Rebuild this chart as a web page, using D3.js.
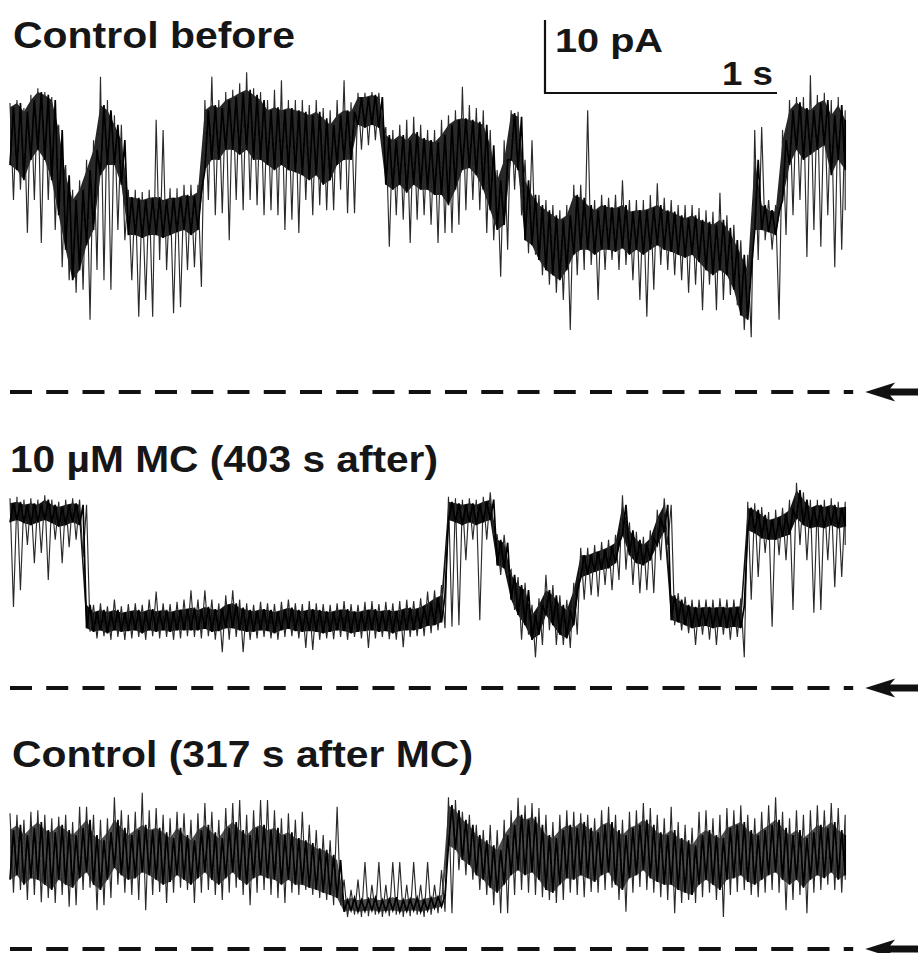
<!DOCTYPE html>
<html>
<head>
<meta charset="utf-8">
<script src="https://cdn.jsdelivr.net/npm/d3@7"></script>
<style>
  body { margin: 0; background: #fff; }
  svg { display: block; }
  text { font-family: "Liberation Sans", Arial, sans-serif; font-weight: bold; fill: #161616; }
</style>
</head>
<body>
<div id="root"></div>
<script>
// single-channel recordings, current in pA above the closed level, binned every dt seconds
const dt = 0.03;
const traceLabels = ["Control before", "10 µM MC (403 s after)", "Control (317 s after MC)"];
const scaleLabels = ["10 pA", "1 s"];

// Control before: dense band (hi/lo) and full extent of the noise (max/min)
const beforeHi = [39.0, 39.6, 38.4, 40.0, 41.1, 40.7, 40.0, 35.9, 29.7, 26.3,
  27.7, 30.4, 33.2, 39.3, 38.6, 36.6, 34.5, 26.7, 26.6, 26.3,
  26.6, 26.7, 26.3, 26.6, 26.6, 27.0, 26.8, 27.4, 38.6, 39.3,
  38.9, 40.0, 40.4, 41.0, 41.4, 40.7, 40.0, 38.6, 39.0, 38.6,
  38.9, 38.6, 38.4, 37.9, 38.4, 37.5, 36.6, 37.9, 38.6, 38.4,
  40.4, 40.4, 40.7, 40.4, 35.2, 34.5, 35.2, 34.5, 35.6, 34.8,
  34.5, 34.2, 35.2, 36.6, 37.3, 37.5, 37.3, 37.0, 36.6, 33.8,
  29.0, 31.8, 38.2, 37.7, 29.0, 27.0, 25.6, 24.9, 24.2, 23.6,
  24.2, 27.0, 26.6, 25.6, 24.9, 25.6, 25.3, 25.2, 25.6, 24.7,
  24.9, 24.9, 25.2, 25.6, 24.9, 24.7, 24.2, 23.8, 24.2, 23.6,
  23.3, 22.9, 23.6, 22.5, 20.8, 18.8, 16.7, 31.8, 25.6, 24.9,
  24.7, 34.5, 38.6, 39.7, 38.9, 38.6, 39.6, 40.0, 37.9, 39.3, 37.3];
const beforeLo = [31.1, 30.4, 29.0, 31.8, 33.2, 31.8, 29.0, 24.2, 19.5, 15.3,
  16.7, 20.1, 22.2, 29.7, 31.1, 31.1, 28.4, 21.5, 21.5, 21.1,
  21.5, 21.5, 21.1, 21.5, 21.9, 22.2, 21.5, 22.2, 30.4, 31.8,
  31.8, 33.2, 33.2, 32.5, 33.2, 31.8, 31.8, 31.1, 30.4, 31.1,
  30.4, 30.1, 29.7, 29.0, 29.7, 28.4, 29.0, 31.1, 31.8, 31.8,
  36.6, 36.2, 36.6, 36.2, 28.4, 27.7, 28.4, 27.3, 28.4, 27.7,
  27.7, 27.0, 27.0, 25.6, 27.7, 30.4, 30.7, 29.7, 27.7, 24.9,
  22.2, 22.9, 31.8, 30.4, 20.8, 20.1, 18.1, 16.7, 16.0, 15.3,
  16.7, 18.8, 19.5, 19.5, 18.8, 19.5, 19.5, 19.2, 19.7, 18.8,
  19.5, 18.8, 19.5, 20.1, 19.5, 19.2, 18.8, 18.4, 18.8, 17.8,
  16.7, 16.0, 16.7, 16.0, 14.0, 10.5, 9.9, 22.2, 22.2, 21.9,
  21.5, 26.3, 31.1, 33.2, 31.8, 32.5, 33.2, 33.8, 29.7, 31.8, 30.4];
const beforeMax = [39.6, 40.0, 38.9, 40.7, 41.6, 41.1, 40.4, 36.6, 31.1, 27.7,
  29.0, 31.8, 34.5, 43.2, 40.0, 37.9, 36.6, 27.7, 27.7, 27.4,
  27.7, 37.3, 35.9, 27.9, 27.9, 28.4, 28.4, 28.4, 40.0, 43.2,
  40.0, 41.1, 41.4, 42.3, 43.8, 41.6, 41.1, 40.0, 41.4, 42.7,
  40.0, 40.0, 40.0, 39.3, 40.0, 38.9, 38.6, 40.0, 42.7, 39.7,
  41.0, 41.0, 41.1, 41.0, 36.3, 35.9, 36.6, 37.3, 37.7, 36.6,
  35.9, 35.9, 37.3, 37.9, 38.6, 41.8, 39.3, 38.9, 38.6, 35.9,
  30.4, 34.5, 38.6, 38.4, 31.8, 34.5, 27.0, 26.3, 25.6, 24.9,
  25.6, 28.4, 28.4, 38.6, 26.3, 27.0, 26.6, 27.0, 29.0, 26.3,
  26.3, 26.3, 27.0, 28.6, 26.6, 26.3, 25.6, 25.6, 25.6, 25.2,
  24.9, 24.7, 27.3, 24.2, 22.9, 20.8, 18.8, 35.9, 36.3, 26.3,
  25.6, 35.9, 40.0, 40.4, 40.4, 43.4, 40.7, 41.0, 40.0, 40.4, 38.6];
const beforeMin = [26.3, 27.7, 21.8, 26.3, 20.4, 26.3, 22.2, 17.1, 15.3, 13.6,
  14.0, 9.9, 16.7, 15.3, 14.0, 22.2, 20.8, 15.3, 10.3, 12.6,
  10.3, 18.1, 16.7, 10.8, 11.6, 16.7, 17.1, 14.4, 26.3, 24.2,
  24.5, 20.8, 26.3, 24.9, 26.3, 25.6, 24.2, 24.9, 24.2, 22.2,
  23.6, 21.8, 26.3, 24.2, 25.6, 24.9, 24.9, 27.7, 24.5, 24.5,
  33.2, 33.8, 34.5, 33.8, 19.9, 24.2, 23.6, 20.4, 23.6, 24.2,
  22.9, 20.4, 21.8, 21.8, 22.9, 24.9, 26.3, 24.9, 21.8, 20.8,
  15.8, 19.5, 27.7, 24.2, 19.0, 18.8, 16.0, 14.7, 13.6, 12.6,
  8.5, 16.0, 16.7, 17.4, 12.6, 16.7, 18.1, 16.7, 17.4, 15.3,
  12.6, 10.3, 14.0, 17.4, 16.7, 16.0, 15.3, 13.6, 14.7, 11.2,
  14.7, 11.2, 12.6, 13.3, 11.9, 8.5, 7.5, 18.1, 20.8, 19.5,
  9.9, 21.5, 24.2, 26.3, 18.5, 22.2, 19.9, 24.2, 17.1, 19.5, 24.9];

// 10 uM MC
const mcHi = [25.3, 25.5, 25.1, 25.3, 25.1, 25.8, 25.1, 24.8, 25.1, 25.3,
  25.1, 11.4, 10.4, 10.7, 10.4, 10.7, 10.3, 10.5, 10.7, 10.4,
  10.8, 10.5, 10.7, 10.4, 10.7, 10.8, 11.0, 10.7, 11.1, 10.8,
  10.7, 11.4, 11.6, 11.0, 10.7, 10.5, 10.8, 10.7, 10.4, 10.7,
  11.0, 10.7, 10.5, 10.8, 10.7, 10.5, 10.4, 10.7, 10.8, 10.5,
  10.4, 10.7, 10.8, 10.5, 10.7, 10.5, 10.7, 11.0, 10.8, 11.1,
  11.6, 12.3, 12.7, 25.5, 25.3, 25.1, 25.3, 25.1, 25.5, 25.8,
  20.3, 19.9, 15.5, 14.1, 13.4, 10.0, 11.4, 13.4, 12.7, 11.4,
  10.7, 13.4, 18.2, 18.2, 18.6, 18.9, 19.3, 19.9, 25.1, 21.6,
  20.3, 19.6, 20.5, 23.3, 25.1, 12.7, 12.1, 11.4, 11.1, 11.0,
  11.1, 11.0, 11.1, 11.0, 11.1, 11.2, 24.7, 24.4, 23.7, 23.0,
  23.3, 23.7, 24.4, 27.1, 25.8, 24.7, 25.1, 24.8, 25.1, 24.7, 24.8];
const mcLo = [22.7, 23.0, 22.6, 22.3, 22.7, 23.0, 22.6, 22.1, 22.3, 22.7,
  22.3, 8.2, 7.7, 7.9, 7.5, 7.9, 7.7, 7.8, 7.9, 7.5,
  7.9, 7.7, 7.9, 7.7, 7.9, 7.9, 7.9, 7.9, 8.1, 7.7,
  7.8, 8.2, 8.2, 7.9, 7.7, 7.7, 7.9, 7.8, 7.5, 7.9,
  8.1, 7.8, 7.7, 7.8, 7.7, 7.5, 7.7, 7.9, 7.8, 7.5,
  7.7, 7.8, 7.9, 7.7, 7.8, 7.5, 7.8, 7.9, 7.9, 8.1,
  8.5, 8.6, 9.0, 23.0, 22.7, 22.3, 22.7, 22.3, 22.7, 23.0,
  16.8, 16.4, 12.1, 10.0, 8.6, 6.6, 7.3, 10.0, 8.6, 7.3,
  6.8, 8.6, 15.1, 15.5, 15.9, 16.2, 16.4, 17.1, 21.0, 18.2,
  17.1, 16.8, 17.5, 19.6, 21.4, 9.3, 9.0, 8.6, 8.2, 8.4,
  8.5, 8.2, 8.4, 8.2, 8.4, 8.2, 21.6, 21.2, 20.5, 20.3,
  20.3, 20.7, 21.0, 23.3, 22.3, 21.9, 22.1, 21.9, 22.3, 21.9, 22.1];
const mcMax = [26.0, 26.2, 25.8, 26.0, 25.8, 26.4, 25.8, 25.5, 25.8, 26.0,
  25.8, 25.1, 11.4, 11.6, 11.2, 12.1, 11.2, 11.5, 11.6, 11.4,
  12.1, 13.2, 11.6, 11.5, 11.8, 12.1, 13.4, 12.1, 13.4, 12.1,
  11.6, 12.7, 13.4, 12.1, 11.6, 11.4, 11.8, 11.6, 11.5, 11.8,
  12.1, 11.6, 11.5, 11.9, 11.6, 11.5, 11.4, 11.6, 11.9, 11.5,
  11.4, 11.8, 11.9, 11.5, 11.8, 11.6, 11.9, 12.1, 11.9, 12.3,
  13.2, 13.4, 14.1, 26.2, 26.0, 25.8, 26.0, 25.8, 26.2, 26.8,
  21.0, 21.0, 16.2, 15.2, 14.4, 11.4, 12.3, 15.5, 14.1, 12.7,
  12.1, 14.4, 19.2, 19.2, 19.6, 20.0, 20.3, 21.0, 26.4, 22.7,
  21.4, 20.7, 21.6, 24.4, 26.0, 25.1, 13.0, 12.5, 12.1, 12.1,
  12.1, 12.1, 12.3, 12.1, 12.1, 12.3, 25.5, 25.3, 24.8, 24.1,
  24.4, 24.7, 25.8, 28.1, 26.8, 25.8, 25.8, 25.8, 26.0, 25.5, 25.5];
const mcMin = [11.1, 13.4, 19.6, 17.1, 18.5, 14.8, 20.3, 17.1, 19.3, 20.3,
  17.9, 7.7, 6.8, 7.1, 6.6, 7.0, 6.6, 6.8, 7.0, 6.6,
  7.1, 6.8, 7.0, 6.6, 6.8, 7.1, 7.0, 6.8, 7.1, 6.6,
  4.9, 6.6, 7.0, 4.9, 6.6, 6.8, 7.0, 6.8, 6.6, 7.0,
  7.1, 6.8, 5.5, 5.2, 6.6, 6.8, 6.7, 7.0, 6.6, 7.0,
  6.8, 5.5, 6.8, 7.0, 6.7, 6.6, 5.6, 7.0, 7.1, 7.1,
  7.5, 7.9, 8.2, 8.4, 8.6, 17.5, 20.3, 9.3, 20.3, 21.0,
  15.5, 15.5, 10.7, 6.6, 7.3, 4.2, 5.9, 7.9, 5.9, 5.9,
  5.5, 7.3, 12.1, 12.7, 12.5, 14.1, 13.4, 14.8, 16.2, 14.1,
  13.0, 13.4, 13.0, 17.5, 19.6, 8.6, 7.9, 7.5, 5.9, 7.3,
  6.6, 5.9, 7.3, 6.6, 7.0, 4.2, 12.1, 15.2, 18.5, 8.4,
  18.2, 17.5, 10.7, 19.6, 17.5, 10.3, 10.7, 17.5, 13.8, 15.2, 19.6];

// Control 317 s after MC
const afterHi = [16.3, 17.0, 15.6, 16.6, 17.4, 16.3, 16.0, 17.0, 16.3, 15.6,
  16.6, 17.7, 15.6, 14.9, 16.0, 17.7, 16.6, 15.6, 16.3, 17.0,
  16.3, 16.6, 16.0, 15.2, 16.6, 15.6, 14.9, 16.3, 17.0, 16.0,
  15.2, 16.6, 17.4, 16.3, 15.6, 16.6, 17.0, 16.3, 16.6, 15.6,
  16.0, 15.2, 14.9, 14.5, 13.8, 13.6, 12.9, 12.2, 6.7, 7.0,
  6.7, 6.8, 7.0, 6.7, 6.8, 7.1, 6.7, 6.8, 7.0, 6.7,
  7.0, 7.1, 7.4, 19.7, 19.0, 17.7, 17.0, 15.6, 14.9, 14.2,
  13.6, 15.6, 17.0, 18.4, 17.7, 18.1, 17.0, 15.6, 15.2, 16.3,
  17.0, 16.6, 17.4, 16.6, 16.0, 17.0, 17.4, 16.3, 15.6, 16.6,
  17.0, 17.7, 17.0, 16.0, 15.6, 16.3, 15.2, 14.9, 14.2, 15.6,
  16.3, 15.6, 15.2, 16.6, 17.0, 17.4, 16.3, 15.6, 16.3, 17.0,
  17.7, 16.6, 15.6, 16.3, 15.2, 16.0, 17.0, 16.6, 17.4, 16.3, 15.6];
const afterLo = [9.5, 10.1, 8.8, 9.7, 9.5, 8.8, 8.1, 9.5, 8.8, 8.4,
  9.7, 10.5, 8.8, 8.1, 9.5, 11.1, 10.1, 9.5, 9.7, 10.5,
  10.1, 9.5, 8.8, 9.2, 10.1, 9.5, 8.8, 9.7, 10.5, 9.5,
  8.8, 9.7, 10.5, 9.5, 8.8, 9.7, 10.1, 9.7, 9.5, 8.8,
  9.5, 8.8, 8.8, 8.4, 8.1, 7.7, 7.4, 7.0, 5.1, 5.3,
  5.1, 5.2, 5.3, 5.1, 5.2, 5.3, 5.1, 5.2, 5.3, 5.1,
  5.3, 5.6, 5.8, 14.2, 13.6, 12.2, 11.5, 10.1, 9.5, 8.4,
  7.7, 8.8, 10.1, 10.8, 10.1, 10.5, 9.5, 8.1, 7.7, 8.8,
  9.7, 9.5, 10.1, 9.7, 9.2, 10.1, 10.5, 8.8, 8.1, 9.7,
  10.1, 10.8, 9.7, 9.2, 8.8, 8.8, 8.1, 7.7, 7.4, 8.8,
  9.5, 8.8, 8.1, 9.5, 9.7, 10.1, 9.2, 8.8, 9.5, 10.1,
  10.5, 9.5, 8.8, 9.5, 8.4, 9.5, 10.1, 9.7, 10.5, 9.5, 10.1];
const afterMax = [18.6, 18.4, 17.7, 18.8, 19.0, 18.4, 17.9, 18.1, 18.4, 17.4,
  19.5, 19.5, 18.4, 17.7, 17.9, 20.8, 19.0, 18.4, 18.8, 21.4,
  19.0, 19.3, 18.4, 17.9, 18.8, 18.6, 17.7, 18.6, 20.0, 18.8,
  17.7, 19.3, 20.0, 20.4, 18.4, 19.0, 20.4, 20.4, 19.0, 17.9,
  18.6, 17.7, 18.8, 17.0, 16.3, 15.6, 14.9, 19.5, 9.5, 8.1,
  9.5, 11.9, 8.8, 11.9, 8.8, 11.9, 11.9, 8.8, 11.9, 8.8,
  11.9, 8.8, 10.8, 20.8, 20.4, 18.8, 18.4, 17.0, 16.3, 17.0,
  16.3, 17.7, 19.0, 20.7, 19.7, 20.0, 19.3, 18.4, 17.4, 18.4,
  19.0, 18.8, 18.6, 18.4, 17.9, 19.0, 19.5, 18.4, 17.7, 18.8,
  19.0, 20.0, 19.3, 18.4, 17.9, 19.5, 17.4, 17.0, 16.6, 18.8,
  19.0, 17.9, 18.4, 19.3, 19.0, 19.7, 18.4, 17.9, 18.8, 19.7,
  20.8, 18.8, 17.9, 19.0, 18.4, 19.0, 19.7, 19.0, 20.0, 19.3, 18.4];
const afterMin = [7.7, 8.1, 6.7, 7.4, 6.4, 7.0, 6.3, 7.4, 5.8, 6.0,
  8.1, 8.4, 5.3, 6.0, 7.0, 8.8, 7.7, 7.4, 6.7, 5.3,
  7.4, 7.8, 6.3, 7.7, 8.4, 8.1, 6.3, 7.7, 8.1, 7.4,
  6.7, 7.7, 8.4, 7.4, 6.0, 7.7, 8.1, 7.4, 7.0, 6.3,
  7.7, 7.4, 8.1, 7.4, 7.0, 6.7, 6.0, 6.0, 4.4, 4.7,
  4.4, 4.5, 4.7, 4.4, 4.5, 4.7, 4.4, 4.5, 4.7, 4.4,
  4.7, 4.9, 5.1, 4.9, 10.8, 10.1, 9.5, 8.1, 7.4, 6.0,
  4.9, 4.9, 7.4, 8.1, 7.7, 7.4, 7.1, 6.7, 6.3, 6.7,
  7.7, 7.4, 7.1, 7.8, 7.7, 8.1, 8.4, 6.7, 5.1, 7.7,
  8.5, 8.1, 7.7, 7.1, 6.7, 4.9, 6.3, 6.7, 6.3, 7.1,
  7.7, 6.7, 4.4, 7.4, 7.8, 8.1, 7.4, 7.1, 7.7, 8.1,
  7.7, 5.3, 6.7, 7.4, 4.9, 7.7, 8.1, 8.8, 8.1, 7.7, 9.5];

const width = 918;
const height = 953;

const svg = d3.select("#root")
  .append("svg")
  .attr("width", width)
  .attr("height", height);

svg.append("rect").attr("width", width).attr("height", height).attr("fill", "#fff");

svg.append("defs")
  .append("filter")
  .attr("id", "soft")
  .append("feGaussianBlur")
  .attr("stdDeviation", 0.5);

// 232 px per second, 7.3 px per pA
const x = d3.scaleLinear().domain([0, 3.6]).range([10, 845.2]);

const panels = [
  { label: traceLabels[0], base: 392, labelX: 13, labelY: 48, labelW: 282, fill: 0.85,
    hi: beforeHi, lo: beforeLo, max: beforeMax, min: beforeMin },
  { label: traceLabels[1], base: 688, labelX: 10, labelY: 472, labelW: 428, fill: 0.92,
    hi: mcHi, lo: mcLo, max: mcMax, min: mcMin },
  { label: traceLabels[2], base: 949, labelX: 12, labelY: 767, labelW: 461, fill: 0.7,
    hi: afterHi, lo: afterLo, max: afterMax, min: afterMin }
];

// zigzag through two series: a at the sample time, b half a bin later
function zigzag(a, b, y) {
  const pts = [];
  a.forEach((d, i) => {
    pts.push([x(i * dt), y(d)]);
    const tb = i === a.length - 1 ? i * dt : (i + 0.5) * dt;
    pts.push([x(tb), y(b[i])]);
  });
  return d3.line()(pts);
}

panels.forEach((p) => {
  const y = d3.scaleLinear().domain([0, 10]).range([p.base, p.base - 73]);
  const g = svg.append("g").attr("class", "panel");

  g.append("text")
    .attr("x", p.labelX)
    .attr("y", p.labelY)
    .attr("font-size", 36)
    .attr("textLength", p.labelW)
    .attr("lengthAdjust", "spacingAndGlyphs")
    .text(p.label);

  const trace = g.append("g").attr("filter", "url(#soft)");

  // dense part of the trace
  const core = d3.area()
    .x((d, i) => x(i * dt))
    .y0((d, i) => y(p.lo[i]))
    .y1((d) => y(d));

  trace.append("path")
    .datum(p.hi)
    .attr("d", core)
    .attr("fill", "#000")
    .attr("fill-opacity", p.fill);

  // full noise excursions
  trace.append("path")
    .attr("d", zigzag(p.max, p.min, y))
    .attr("fill", "none")
    .attr("stroke", "#2b2b2b")
    .attr("stroke-width", 1.15);

  trace.append("path")
    .attr("d", zigzag(p.lo, p.hi, y))
    .attr("fill", "none")
    .attr("stroke", "#000")
    .attr("stroke-width", 1.7);

  // closed level
  const xEnd = x.range()[1];
  g.append("line")
    .attr("x1", x(0))
    .attr("x2", xEnd + 8)
    .attr("y1", y(0))
    .attr("y2", y(0))
    .attr("stroke", "#111")
    .attr("stroke-width", 4)
    .attr("stroke-dasharray", "22 14.25");

  const tip = xEnd + 20;
  const y0 = y(0);
  g.append("path")
    .attr("d", `M${tip},${y0} L${tip + 30},${y0 - 9.5} L${tip + 25},${y0 - 3.4}
      L${width},${y0 - 3.4} L${width},${y0 + 3.4} L${tip + 25},${y0 + 3.4}
      L${tip + 30},${y0 + 9.5} Z`)
    .attr("fill", "#111");
});

// scale bar
const yBar = d3.scaleLinear().domain([0, 10]).range([93, 20]);
const sbX = 545;
const bar = svg.append("g").attr("id", "scalebar");
bar.append("path")
  .attr("d", `M${sbX},${yBar(10)} V${yBar(0)} H${sbX + x(1) - x(0)}`)
  .attr("fill", "none")
  .attr("stroke", "#111")
  .attr("stroke-width", 2.2);

bar.append("text")
  .attr("x", 555)
  .attr("y", 52)
  .attr("font-size", 33)
  .attr("textLength", 108)
  .attr("lengthAdjust", "spacingAndGlyphs")
  .text(scaleLabels[0]);

bar.append("text")
  .attr("x", 722)
  .attr("y", 85)
  .attr("font-size", 33)
  .attr("textLength", 51)
  .attr("lengthAdjust", "spacingAndGlyphs")
  .text(scaleLabels[1]);
</script>
</body>
</html>
